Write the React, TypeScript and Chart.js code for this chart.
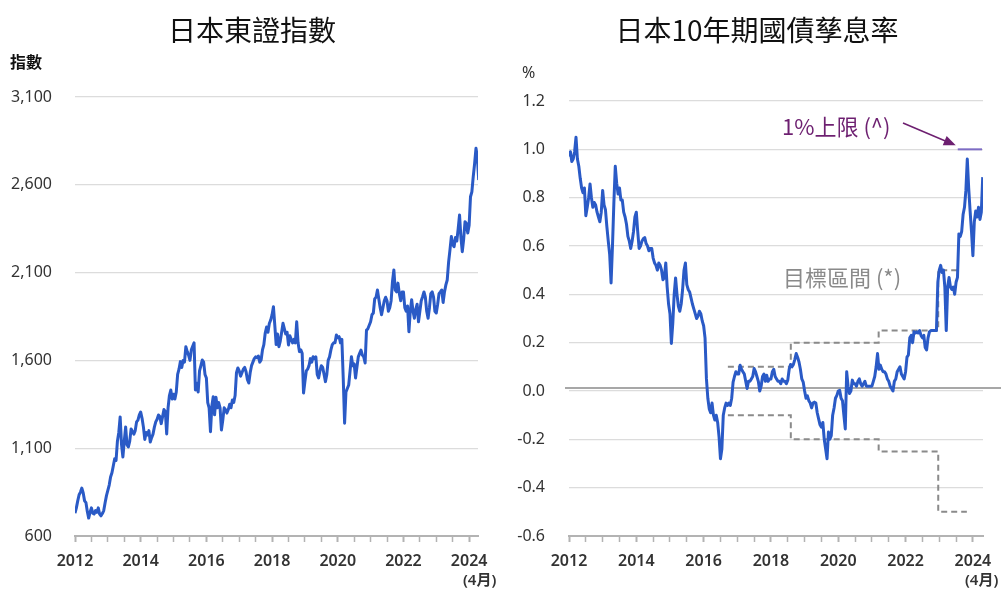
import React, { useEffect, useRef } from 'react';
import { Chart, registerables } from 'chart.js';

Chart.register(...registerables);

const FONT = '"Noto Sans", "Noto Sans CJK TC", sans-serif';
const CJK = '"Noto Sans CJK TC", "Noto Sans", sans-serif';

// ---------- data ----------
const START_YEAR = 2012;
const POINTS_PER_YEAR = 24; // two readings per month (start, mid)
const X_MIN = 2012;
const TOPIX_X_MAX = 2024.27;
const JGB_X_MAX = 2024.3;
const LABEL_YEARS = [2012, 2014, 2016, 2018, 2020, 2022, 2024];

const TOPIX_TITLE = '日本東證指數';
const JGB_TITLE = '日本10年期國債孳息率';
const TOPIX_UNIT = '指數';
const JGB_UNIT = '%';
const LAST_NOTE = '(4月)';
const CAP_LABEL = '1%上限 (^)';
const BAND_LABEL = '目標區間 (*)';

const TOPIX_TICKS = [600, 1100, 1600, 2100, 2600, 3100];
const JGB_TICKS = [-0.6, -0.4, -0.2, 0, 0.2, 0.4, 0.6, 0.8, 1.0, 1.2];

const topixValues = [
  // 2012
  730, 760, 800, 835, 850, 873, 845, 800, 790, 740, 702, 735,
  760, 730, 725, 745, 735, 760, 725, 715, 728, 745, 790, 830,
  // 2013
  860, 890, 936, 960, 1000, 1040, 1030, 1140, 1190, 1278, 1120, 1050,
  1140, 1221, 1120, 1107, 1140, 1210, 1195, 1180, 1200, 1250, 1260, 1290,
  // 2014
  1306, 1270, 1220, 1150, 1190, 1175, 1200, 1135, 1160, 1180, 1220, 1250,
  1265, 1289, 1280, 1240, 1280, 1320, 1310, 1181, 1330, 1400, 1431, 1380,
  // 2015
  1407, 1380, 1420, 1520, 1550, 1593, 1560, 1600, 1590, 1678, 1650, 1630,
  1600, 1660, 1680, 1700, 1431, 1470, 1420, 1540, 1570, 1602, 1590, 1520,
  // 2016
  1500, 1360, 1330, 1194, 1340, 1393, 1290, 1390, 1330, 1360, 1330, 1204,
  1260, 1330, 1320, 1300, 1320, 1350, 1330, 1374, 1360, 1400, 1530, 1557,
  // 2017
  1540, 1510, 1530, 1550, 1560, 1535, 1490, 1471, 1530, 1570, 1590, 1610,
  1620, 1615, 1625, 1590, 1602, 1660, 1690, 1756, 1790, 1760, 1810, 1830,
  // 2018
  1860, 1906, 1800, 1690, 1750, 1678, 1710, 1760, 1811, 1780, 1750, 1760,
  1688, 1740, 1720, 1700, 1720, 1700, 1820, 1700, 1650, 1660, 1640, 1414,
  // 2019
  1480, 1540, 1550, 1570, 1610, 1590, 1621, 1610, 1620, 1520, 1500, 1540,
  1570, 1560, 1520, 1479, 1520, 1600, 1620, 1660, 1690, 1700, 1700, 1745,
  // 2020
  1730, 1735, 1700, 1720, 1500, 1242, 1420, 1440, 1460, 1540, 1621, 1570,
  1580, 1500, 1560, 1620, 1640, 1659, 1630, 1620, 1585, 1773, 1780, 1800,
  // 2021
  1820, 1860, 1870, 1950, 1960, 2001, 1950, 1900, 1860, 1900, 1940, 1960,
  1940, 1880, 1900, 1940, 2050, 2115, 2000, 1990, 2040, 1980, 1940, 1990,
  // 2022
  1990, 1900, 1880, 1910, 1763, 1880, 1946, 1880, 1840, 1890, 1920, 1820,
  1880, 1940, 1963, 1990, 1960, 1880, 1840, 1900, 1980, 1990, 1960, 1880,
  // 2023
  1870, 1920, 1980, 1990, 2001, 1930, 1990, 2030, 2058, 2160, 2229, 2305,
  2260, 2247, 2300, 2280, 2350, 2428, 2300, 2219, 2290, 2390, 2380, 2325,
  // 2024 (Jan-Apr)
  2370, 2532, 2560, 2646, 2720, 2808, 2760, 2627,
];

const jgbValues = [
  // 2012
  0.97, 0.99, 0.95, 0.96, 0.99, 1.05, 0.96, 0.93, 0.88, 0.84, 0.82, 0.84,
  0.725, 0.76, 0.8, 0.857, 0.8, 0.76, 0.78, 0.77, 0.74, 0.72, 0.7, 0.74,
  // 2013
  0.83, 0.77, 0.75, 0.68, 0.62, 0.565, 0.447, 0.6, 0.78, 0.93, 0.86, 0.815,
  0.84, 0.79, 0.79, 0.74, 0.72, 0.69, 0.64, 0.62, 0.59, 0.62, 0.66, 0.72,
  // 2014
  0.74, 0.66, 0.59, 0.6, 0.62, 0.63, 0.635, 0.61, 0.6, 0.58, 0.59, 0.59,
  0.55, 0.53, 0.52, 0.5, 0.53, 0.52, 0.5, 0.46, 0.47, 0.53, 0.43, 0.36,
  // 2015
  0.32, 0.197, 0.28, 0.4, 0.468, 0.4, 0.35, 0.33, 0.36, 0.42, 0.5, 0.53,
  0.44, 0.42, 0.41, 0.385, 0.36, 0.34, 0.32, 0.3, 0.31, 0.33, 0.32, 0.29,
  // 2016
  0.27, 0.22, 0.05, -0.03, -0.074, -0.09, -0.05, -0.1, -0.12, -0.1, -0.13, -0.19,
  -0.28, -0.24, -0.1, -0.07, -0.05, -0.06, -0.05, -0.06, -0.03, 0.037, 0.06, 0.08,
  // 2017
  0.07, 0.07, 0.107, 0.09, 0.08, 0.07, 0.04, 0.01, 0.04, 0.04, 0.05, 0.06,
  0.093, 0.08, 0.06, 0.04, 0.0, 0.02, 0.06, 0.07, 0.04, 0.065, 0.04, 0.05,
  // 2018
  0.05, 0.08, 0.09, 0.06, 0.05, 0.04, 0.04, 0.03, 0.05, 0.04, 0.04, 0.03,
  0.045, 0.09, 0.11, 0.1, 0.11, 0.13, 0.155, 0.14, 0.12, 0.09, 0.05, 0.037,
  // 2019
  0.0, -0.03, -0.02, -0.04, -0.05, -0.07, -0.05, -0.046, -0.05, -0.09, -0.115, -0.14,
  -0.15, -0.13, -0.2, -0.24, -0.28, -0.17, -0.2, -0.185, -0.1, -0.07, -0.03, -0.018,
  // 2020
  0.0, 0.003, -0.03, -0.04, -0.1, -0.157, 0.08, 0.02, -0.01, 0.0, 0.045, 0.03,
  0.03, 0.02, 0.04, 0.05, 0.03, 0.02, 0.03, 0.04, 0.02, 0.02, 0.02, 0.02,
  // 2021
  0.02, 0.04, 0.06, 0.1, 0.155, 0.09, 0.107, 0.09, 0.08, 0.08, 0.07, 0.05,
  0.04, 0.02, 0.01, 0.0, 0.04, 0.05, 0.08, 0.09, 0.1, 0.07, 0.06, 0.05,
  // 2022
  0.08, 0.14, 0.149, 0.22, 0.23, 0.2, 0.245, 0.24, 0.245, 0.24, 0.25, 0.23,
  0.22, 0.23, 0.18, 0.17, 0.22, 0.245, 0.25, 0.25, 0.25, 0.25, 0.25, 0.45,
  // 2023
  0.5, 0.52, 0.49, 0.5, 0.43, 0.25, 0.43, 0.47, 0.43, 0.42, 0.43, 0.4,
  0.45, 0.47, 0.65, 0.64, 0.66, 0.73, 0.76, 0.83, 0.96, 0.84, 0.745, 0.66,
  // 2024 (Jan-Apr)
  0.56, 0.7, 0.745, 0.72, 0.76, 0.71, 0.74, 0.885,
];

// BOJ target band (stepped) and 1% reference cap
const bandUpperYears = [2016.72, 2018.59, 2021.2, 2022.97, 2023.55];
const bandUpperValues = [0.1, 0.2, 0.25, 0.5, 0.5];
const bandLowerYears = [2016.72, 2018.59, 2021.2, 2022.97, 2023.82];
const bandLowerValues = [-0.1, -0.2, -0.25, -0.5, -0.5];
const capYears = [2023.55, 2024.27];
const capValues = [1.0, 1.0];

// ---------- helpers ----------
const toSeries = (vals: number[]) => vals.map((v, i) => ({ x: START_YEAR + i / POINTS_PER_YEAR, y: v }));
const zip = (xs: number[], ys: number[]) => xs.map((x, i) => ({ x, y: ys[i] }));
const isLabelYear = (v: number) => {
  const r = Math.round(v);
  return Math.abs(v - r) < 1e-6 && LABEL_YEARS.includes(r);
};

const LINE_COLOR = '#2a5ac6';
const GRID_COLOR = '#dcdcdc';
const AXIS_COLOR = '#b3b3b3';
const TEXT_COLOR = '#333333';
const PURPLE = '#6d1f70';

function xScale(max: number) {
  return {
    type: 'linear' as const,
    min: X_MIN,
    max,
    ticks: {
      stepSize: 0.5,
      includeBounds: false,
      autoSkip: false,
      maxRotation: 0,
      minRotation: 0,
      padding: 10,
      color: TEXT_COLOR,
      font: { family: FONT, size: 16, weight: 600 as any },
      callback: (v: any) => (isLabelYear(Number(v)) ? String(Math.round(Number(v))) : ''),
    },
    grid: {
      drawOnChartArea: false,
      drawTicks: true,
      tickLength: 6,
      tickColor: AXIS_COLOR,
      tickWidth: (ctx: any) => (ctx.tick && isLabelYear(ctx.tick.value) ? 2 : 1.5),
    },
    border: { display: true, color: AXIS_COLOR, width: 2 },
    afterFit: (s: any) => { s.height = 54; },
  };
}

function drawText(ctx: CanvasRenderingContext2D, text: string, x: number, y: number, font: string, color: string, align: CanvasTextAlign = 'left') {
  ctx.font = font;
  ctx.fillStyle = color;
  ctx.textAlign = align;
  ctx.textBaseline = 'middle';
  ctx.fillText(text, x, y);
}

function topixConfig(): any {
  return {
    type: 'line',
    data: {
      datasets: [
        { data: toSeries(topixValues), borderColor: LINE_COLOR, borderWidth: 3, pointRadius: 0, tension: 0, borderJoinStyle: 'round' },
      ],
    },
    options: {
      responsive: false,
      animation: false,
      devicePixelRatio: 1,
      layout: { padding: { top: 97, right: 22, left: 0, bottom: 0 } },
      plugins: { legend: { display: false }, tooltip: { enabled: false } },
      scales: {
        x: xScale(TOPIX_X_MAX),
        y: {
          min: TOPIX_TICKS[0],
          max: TOPIX_TICKS[TOPIX_TICKS.length - 1],
          afterBuildTicks: (s: any) => { s.ticks = TOPIX_TICKS.map((v) => ({ value: v })); },
          ticks: {
            padding: 23,
            color: TEXT_COLOR,
            font: { family: FONT, size: 16 },
            callback: (v: any) => Number(v).toLocaleString('en-US'),
          },
          grid: { color: GRID_COLOR, lineWidth: 1.2, drawTicks: false },
          border: { display: false },
          afterFit: (s: any) => { s.width = 75; },
        },
      },
    },
    plugins: [
      {
        id: 'topixText',
        afterDraw(chart: any) {
          const ctx = chart.ctx as CanvasRenderingContext2D;
          ctx.save();
          drawText(ctx, TOPIX_TITLE, 252, 30, `28px ${CJK}`, '#111', 'center');
          drawText(ctx, TOPIX_UNIT, 10, 62, `bold 16px ${CJK}`, '#111', 'left');
          drawText(ctx, LAST_NOTE, 463, 581, `600 15px ${FONT}`, TEXT_COLOR, 'left');
          ctx.restore();
        },
      },
    ],
  };
}

function jgbConfig(): any {
  return {
    type: 'line',
    data: {
      datasets: [
        { data: toSeries(jgbValues), borderColor: LINE_COLOR, borderWidth: 3, pointRadius: 0, tension: 0, borderJoinStyle: 'round' },
        { data: zip(bandUpperYears, bandUpperValues), borderColor: '#8a8a8a', borderWidth: 2, borderDash: [6, 4], stepped: true, pointRadius: 0 },
        { data: zip(bandLowerYears, bandLowerValues), borderColor: '#8a8a8a', borderWidth: 2, borderDash: [6, 4], stepped: true, pointRadius: 0 },
        { data: zip(capYears, capValues), borderColor: '#7d6cc4', borderWidth: 2, pointRadius: 0 },
      ],
    },
    options: {
      responsive: false,
      animation: false,
      devicePixelRatio: 1,
      layout: { padding: { top: 101, right: 22, left: 0, bottom: 0 } },
      plugins: { legend: { display: false }, tooltip: { enabled: false } },
      scales: {
        x: xScale(JGB_X_MAX),
        y: {
          min: JGB_TICKS[0],
          max: JGB_TICKS[JGB_TICKS.length - 1],
          afterBuildTicks: (s: any) => { s.ticks = JGB_TICKS.map((v) => ({ value: v })); },
          ticks: {
            padding: 24,
            color: TEXT_COLOR,
            font: { family: FONT, size: 16 },
            callback: (v: any) => (Math.abs(Number(v)) < 1e-9 ? '0.0' : Number(v).toFixed(1)),
          },
          grid: { color: GRID_COLOR, lineWidth: 1.2, drawTicks: false },
          border: { display: false },
          afterFit: (s: any) => { s.width = 69; },
        },
      },
    },
    plugins: [
      {
        id: 'zeroLine',
        beforeDatasetsDraw(chart: any) {
          const ctx = chart.ctx as CanvasRenderingContext2D;
          const y = chart.scales.y.getPixelForValue(0) - 3;
          const { left, right } = chart.chartArea;
          ctx.save();
          ctx.strokeStyle = '#8a8a8a';
          ctx.lineWidth = 1.5;
          ctx.beginPath();
          ctx.moveTo(left - 4, y);
          ctx.lineTo(right + 18, y);
          ctx.stroke();
          ctx.restore();
        },
      },
      {
        id: 'jgbText',
        afterDraw(chart: any) {
          const ctx = chart.ctx as CanvasRenderingContext2D;
          ctx.save();
          drawText(ctx, JGB_TITLE, 257, 30, `28px ${CJK}`, '#111', 'center');
          drawText(ctx, JGB_UNIT, 22, 73, `16px ${FONT}`, TEXT_COLOR, 'left');
          drawText(ctx, LAST_NOTE, 465, 581, `600 15px ${FONT}`, TEXT_COLOR, 'left');
          drawText(ctx, CAP_LABEL, 282, 127, `22px ${CJK}`, PURPLE, 'left');
          drawText(ctx, BAND_LABEL, 283, 278, `22px ${CJK}`, '#8a8a8a', 'left');
          // arrow to the 1% cap
          const x0 = 403, y0 = 123;
          const x1 = chart.scales.x.getPixelForValue(capYears[0]) - 2;
          const y1 = chart.scales.y.getPixelForValue(capValues[0]) - 4;
          ctx.strokeStyle = PURPLE;
          ctx.fillStyle = PURPLE;
          ctx.lineWidth = 1.5;
          const ang = Math.atan2(y1 - y0, x1 - x0);
          const L = 12, W = 5;
          ctx.beginPath();
          ctx.moveTo(x0, y0);
          ctx.lineTo(x1 - (L - 2) * Math.cos(ang), y1 - (L - 2) * Math.sin(ang));
          ctx.stroke();
          ctx.beginPath();
          ctx.moveTo(x1, y1);
          ctx.lineTo(x1 - L * Math.cos(ang) + W * Math.sin(ang), y1 - L * Math.sin(ang) - W * Math.cos(ang));
          ctx.lineTo(x1 - L * Math.cos(ang) - W * Math.sin(ang), y1 - L * Math.sin(ang) + W * Math.cos(ang));
          ctx.closePath();
          ctx.fill();
          ctx.restore();
        },
      },
    ],
  };
}

function ChartCanvas({ makeConfig, left, width }: { makeConfig: () => any; left: number; width: number }) {
  const ref = useRef<HTMLCanvasElement>(null);
  useEffect(() => {
    if (!ref.current) return;
    const chart = new Chart(ref.current, makeConfig());
    return () => chart.destroy();
  }, [makeConfig]);
  return (
    <canvas
      ref={ref}
      width={width}
      height={590}
      style={{ position: 'absolute', left, top: 0, width, height: 590, display: 'block' }}
    />
  );
}

export default function App() {
  return (
    <div style={{ position: 'absolute', left: 0, top: 0, width: 1005, height: 590, background: '#fff', overflow: 'hidden' }}>
      <ChartCanvas makeConfig={topixConfig} left={0} width={500} />
      <ChartCanvas makeConfig={jgbConfig} left={500} width={505} />
    </div>
  );
}
